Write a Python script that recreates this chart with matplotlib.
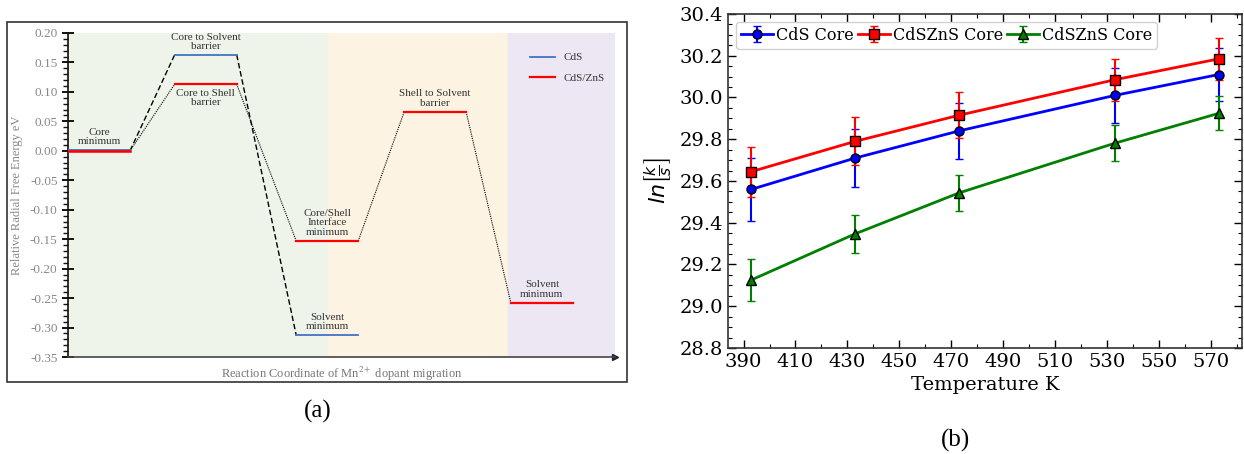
import matplotlib.pyplot as plt
from matplotlib.patches import Rectangle
from matplotlib.ticker import MultipleLocator

# (a) energy levels: centre of each plateau on the reaction coordinate
cds_pos = [0.5, 2.22, 4.18]
cds_energy = [0.0, 0.163, -0.313]
zns_pos = [0.5, 2.22, 4.18, 5.92, 7.64]
zns_energy = [0.0, 0.113, -0.153, 0.066, -0.258]
level_names = ["Core\nminimum", "Core to Solvent\nbarrier", "Core to Shell\nbarrier",
               "Core/Shell\nInterface\nminimum", "Solvent\nminimum",
               "Shell to Solvent\nbarrier", "Solvent\nminimum"]

# (b) rate constants vs temperature
temps = [393, 433, 473, 533, 573]
cds_core = [29.56, 29.71, 29.84, 30.01, 30.11]
cds_core_err = [0.15, 0.14, 0.135, 0.13, 0.127]
zns_core = [29.645, 29.79, 29.915, 30.085, 30.185]
zns_core_err = [0.12, 0.115, 0.11, 0.10, 0.10]
zns_core2 = [29.126, 29.347, 29.543, 29.781, 29.924]
zns_core2_err = [0.1, 0.09, 0.087, 0.085, 0.081]

fig = plt.figure(figsize=(12.44, 4.54), dpi=100)

# ---------------- panel (a) ----------------
W = 1244.0
H = 454.0
serif = "Liberation Serif"
ax = fig.add_axes([68 / W, 1 - 357 / H, 547 / W, 324 / H])
ax.set_xlim(0, 8.82)
ax.set_ylim(-0.35, 0.20)
ax.axvspan(0, 4.19, color="#eef4ea", zorder=0)
ax.axvspan(4.19, 7.1, color="#fdf3e2", zorder=0)
ax.axvspan(7.1, 8.82, color="#ede7f3", zorder=0)

hw = 0.5
for x, y in zip(zns_pos, zns_energy):
    ax.plot([x - hw, x + hw], [y, y], color="red", lw=1.6, zorder=3)
for x, y in zip(cds_pos, cds_energy):
    ax.plot([x - hw, x + hw], [y + (0.002 if y == 0 else 0), y + (0.002 if y == 0 else 0)],
            color="#4472c4", lw=1.3, zorder=3)
ax.plot([0, 1], [0, 0], color="red", lw=1.8, zorder=4)

# connectors between plateaus
for i in range(len(cds_pos) - 1):
    ax.plot([cds_pos[i] + hw, cds_pos[i + 1] - hw], [cds_energy[i], cds_energy[i + 1]],
            color="black", ls=(0, (4, 2)), lw=1.0, zorder=2)
for i in range(len(zns_pos) - 1):
    ax.plot([zns_pos[i] + hw, zns_pos[i + 1] - hw], [zns_energy[i], zns_energy[i + 1]],
            color="black", ls=(0, (1, 1)), lw=0.8, zorder=2)

tk = dict(ha="center", fontsize=8, family=serif, color="#333333", linespacing=1.05)
ax.text(zns_pos[0], 0.008, level_names[0], va="bottom", **tk)
ax.text(cds_pos[1], 0.169, level_names[1], va="bottom", **tk)
ax.text(zns_pos[1], 0.105, level_names[2], va="top", **tk)
ax.text(zns_pos[2], -0.146, level_names[3], va="bottom", **tk)
ax.text(cds_pos[2], -0.306, level_names[4], va="bottom", **tk)
ax.text(zns_pos[3], 0.073, level_names[5], va="bottom", **tk)
ax.text(zns_pos[4], -0.251, level_names[6], va="bottom", **tk)

ax.plot([], [], color="#4472c4", lw=1.3, label="CdS")
ax.plot([], [], color="red", lw=1.6, label="CdS/ZnS")
ax.legend(loc="upper right", bbox_to_anchor=(1.0, 0.97), frameon=False,
          prop={"family": serif, "size": 8}, labelspacing=1.0, handlelength=2.2,
          labelcolor="#333333")

for s in ["top", "right"]:
    ax.spines[s].set_visible(False)
ax.spines["left"].set_color("#111111")
ax.spines["left"].set_linewidth(1.2)
ax.spines["bottom"].set_color("#444444")
ax.spines["bottom"].set_linewidth(1.2)
ax.plot(1, 0, ">", transform=ax.transAxes, color="#222222", ms=4, clip_on=False)
ax.set_xticks([])
ax.yaxis.set_major_locator(MultipleLocator(0.05))
ax.yaxis.set_minor_locator(MultipleLocator(0.01))
ax.tick_params(axis="y", which="major", direction="inout", length=8, width=1.4,
               labelsize=9.5, labelcolor="#888888", color="#111111")
ax.tick_params(axis="y", which="minor", direction="out", length=3.5, width=1.0, color="#111111")
ax.set_yticklabels(["%.2f" % v for v in ax.get_yticks()], family=serif)
ax.set_ylabel("Relative Radial Free Energy eV", family=serif, fontsize=9, color="#888888",
              labelpad=5)
ax.set_xlabel("Reaction Coordinate of Mn$^{2+}$ dopant migration", family=serif,
              fontsize=9, color="#777777", labelpad=6)
ax.xaxis.label.set_math_fontfamily("stix")

fig.patches.append(Rectangle((7 / W, 1 - 382 / H), 620 / W, 360 / H, transform=fig.transFigure,
                             fill=False, ec="#333333", lw=1.2))
fig.text(318 / W, 1 - 411 / H, "(a)", family=serif, fontsize=18, ha="center", va="center")

# ---------------- panel (b) ----------------
bx = fig.add_axes([728 / W, 1 - 348 / H, 514 / W, 334 / H])
eb = dict(lw=2, elinewidth=1.5, capsize=3, capthick=1.5, ms=6.5, mec="black", mew=1.0)
bx.errorbar(temps, cds_core, yerr=cds_core_err, color="blue", marker="o", label="CdS Core", **eb)
bx.errorbar(temps, zns_core, yerr=zns_core_err, color="red", marker="s", label="CdSZnS Core", **eb)
bx.errorbar(temps, zns_core2, yerr=zns_core2_err, color="green", marker="^", label="CdSZnS Core", **eb)
bx.set_ylim(28.8, 30.4)
bx.set_xticks(range(390, 571, 20))
bx.xaxis.set_minor_locator(MultipleLocator(10))
bx.yaxis.set_minor_locator(MultipleLocator(0.05))
bx.tick_params(which="both", direction="in", top=True, right=True, labelsize=14)
bx.tick_params(which="major", length=6, width=1.0)
bx.tick_params(which="minor", length=3, width=0.8)
for lab in bx.get_xticklabels() + bx.get_yticklabels():
    lab.set_family("DejaVu Serif")
for s in bx.spines.values():
    s.set_linewidth(1.2)
    s.set_color("#333333")
bx.set_xlabel("Temperature K", family="DejaVu Serif", fontsize=14)
bx.set_ylabel(r"$ln\left[\frac{k}{s}\right]$", fontsize=16)
bx.legend(loc="upper left", ncol=3, prop={"family": "DejaVu Serif", "size": 11.5},
          handlelength=2.0, columnspacing=0.25, handletextpad=0.2, borderpad=0.3,
          borderaxespad=0.5, framealpha=0.9)
fig.text(955 / W, 1 - 440 / H, "(b)", family=serif, fontsize=18, ha="center", va="center")

fig.savefig("out.png", dpi=100)
